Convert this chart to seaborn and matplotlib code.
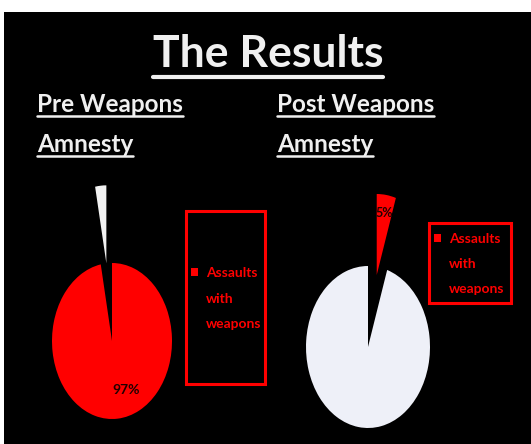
import textwrap
import matplotlib
matplotlib.use("Agg")
import matplotlib.pyplot as plt
import seaborn as sns
from matplotlib.patches import Rectangle
from matplotlib.lines import Line2D

# chart data
category = "Assaults with weapons"
pre_values = [97, 3]       # red = assaults with weapons, white = rest
post_values = [5, 95]
pre_colors = ["#ff0000", "#f2f2f2"]
post_colors = ["#ff0000", "#eef0f8"]
pre_explode = [0, 1.0]
post_explode = [0.9, 0]

title = "The Results"
pre_title = ["Pre Weapons", "Amnesty"]
post_title = ["Post Weapons", "Amnesty"]

sns.set_style("white")
plt.rcParams["font.family"] = ["Lato", "DejaVu Sans"]

W, H = 531, 444
fig = plt.figure(figsize=(W / 100, H / 100), dpi=100, facecolor="white")

# black slide background (white strip on top/left like the screenshot)
fig.add_artist(Rectangle((4 / W, 0), 1, 1 - 12 / H, transform=fig.transFigure,
                         facecolor="black", edgecolor="none", zorder=0))


def fx(px):
    return px / W


def fy(py):
    return 1 - py / H


def pie_axes(cx, cy, rx, ry, xlim=(-1.1, 1.1), ylim=(-1.1, 2.2)):
    # axes sized so that a unit pie becomes an ellipse rx by ry pixels
    left = cx + xlim[0] * rx
    bottom = cy - ylim[0] * ry
    ax = fig.add_axes([fx(left), fy(bottom), (xlim[1] - xlim[0]) * rx / W,
                       (ylim[1] - ylim[0]) * ry / H])
    return ax, xlim, ylim


def only_first(pct, target):
    return f"{pct:.0f}%" if abs(pct - target) < 0.5 else ""


# pre amnesty pie
ax1, xl, yl = pie_axes(112, 341, 60, 78)
_, _, pre_txt = ax1.pie(pre_values, colors=pre_colors, explode=pre_explode, startangle=90,
                        counterclock=False, autopct=lambda p: only_first(p, pre_values[0]),
                        textprops=dict(color="#200000", fontsize=10, fontweight="bold"),
                        wedgeprops=dict(linewidth=0))
pre_txt[0].set_position((0.23, -0.63))
ax1.set_aspect("auto")
ax1.set_xlim(*xl)
ax1.set_ylim(*yl)
ax1.axis("off")

# post amnesty pie
ax2, xl, yl = pie_axes(368, 347, 62, 81)
ax2.pie(post_values, colors=post_colors, explode=post_explode, startangle=90,
        counterclock=False, autopct=lambda p: only_first(p, post_values[0]),
        pctdistance=0.78, textprops=dict(color="#200000", fontsize=9, fontweight="bold"),
        wedgeprops=dict(linewidth=0))
ax2.set_aspect("auto")
ax2.set_xlim(*xl)
ax2.set_ylim(*yl)
ax2.axis("off")

# legends: red frame + wrapped label
lines = textwrap.wrap(category, 8)
for ax, (l, t, r, b) in [(ax1, (186, 211, 265, 384)), (ax2, (429, 223, 511, 303))]:
    fig.add_artist(Rectangle((fx(l), fy(b)), (r - l) / W, (b - t) / H,
                             transform=fig.transFigure, facecolor="none",
                             edgecolor="#ff0000", linewidth=2.2, zorder=3))
    handles = [Rectangle((0, 0), 1, 1, facecolor="#ff0000", edgecolor="none")] + \
              [Rectangle((0, 0), 1, 1, facecolor="none", edgecolor="none")] * (len(lines) - 1)
    ax.legend(handles, lines, loc="center left",
              bbox_to_anchor=(fx(l + 5), fy((t + b) / 2 + 1)),
              bbox_transform=fig.transFigure, frameon=False,
              labelcolor="#ff0000", handlelength=0.5,
              handleheight=0.5, handletextpad=0.6, labelspacing=0.95,
              borderpad=0, borderaxespad=0, prop=dict(weight="bold", size=10))

# titles
heads = []
heads.append((fig.text(fx(268), fy(67), title, ha="center", va="baseline",
                       color="#f0f0f0", fontsize=32, fontweight="bold"), 67 + 10, 3.0))
for x0, words in [(37, pre_title), (277, post_title)]:
    for i, w in enumerate(words):
        base = 112 + 40 * i
        heads.append((fig.text(fx(x0), fy(base), w, ha="left", va="baseline",
                               color="#f0f0f0", fontsize=17.5, fontweight="bold"),
                      base + 4, 1.8))

# underline each heading under its own extent
fig.canvas.draw()
for t, uy, lw in heads:
    bb = t.get_window_extent().transformed(fig.transFigure.inverted())
    fig.add_artist(Line2D([bb.x0, bb.x1], [fy(uy), fy(uy)], transform=fig.transFigure,
                          color="#f0f0f0", linewidth=lw))

fig.savefig("out.png", dpi=100, facecolor="white")
